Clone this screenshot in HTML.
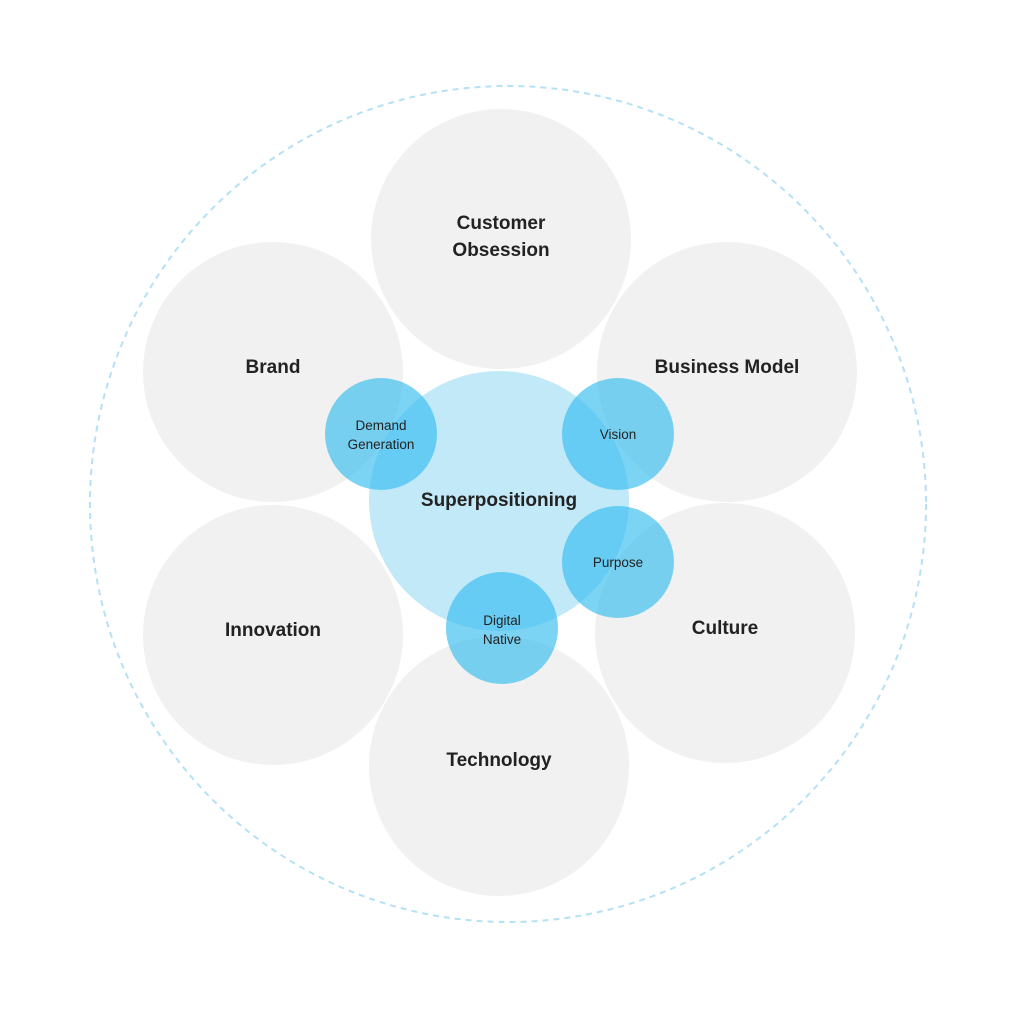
<!DOCTYPE html>
<html><head><meta charset="utf-8"><style>
html,body{margin:0;padding:0;background:#fff;}
svg{display:block;}
text{font-family:"Liberation Sans",Arial,sans-serif;fill:#222;text-anchor:middle;}
.b{font-weight:bold;font-size:19px;}
.s{font-size:13.5px;}
</style></head><body>
<svg width="1016" height="1024" viewBox="0 0 1016 1024">
<circle cx="508" cy="504" r="418" fill="none" stroke="#b5e1f4" stroke-width="2" stroke-dasharray="6,5"/>
<g fill="#f1f1f1">
<circle cx="501" cy="239" r="130"/>
<circle cx="273" cy="372" r="130"/>
<circle cx="727" cy="372" r="130"/>
<circle cx="273" cy="635" r="130"/>
<circle cx="725" cy="633" r="130"/>
<circle cx="499" cy="766" r="130"/>
</g>
<circle cx="499" cy="501" r="130" fill="#c2e9f8"/>
<g fill="#36bdf0" fill-opacity="0.65">
<circle cx="381" cy="434" r="56"/>
<circle cx="618" cy="434" r="56"/>
<circle cx="618" cy="562" r="56"/>
<circle cx="502" cy="628" r="56"/>
</g>
<text class="b" x="501" y="229">Customer</text>
<text class="b" x="501" y="256">Obsession</text>
<text class="b" x="273" y="373">Brand</text>
<text class="b" x="727" y="373">Business Model</text>
<text class="b" x="273" y="636">Innovation</text>
<text class="b" x="725" y="634">Culture</text>
<text class="b" x="499" y="766">Technology</text>
<text class="b" x="499" y="506">Superpositioning</text>
<text class="s" x="381" y="430">Demand</text>
<text class="s" x="381" y="449">Generation</text>
<text class="s" x="618" y="439">Vision</text>
<text class="s" x="618" y="567">Purpose</text>
<text class="s" x="502" y="625">Digital</text>
<text class="s" x="502" y="644">Native</text>
</svg>
</body></html>
